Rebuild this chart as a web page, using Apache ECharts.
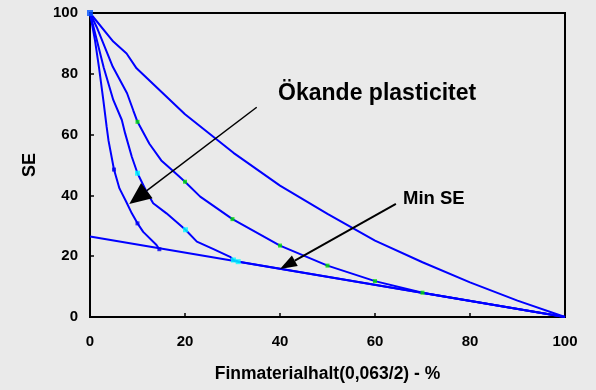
<!DOCTYPE html>
<html>
<head>
<meta charset="utf-8">
<script src="https://cdn.jsdelivr.net/npm/echarts@6/dist/echarts.min.js"></script>
<style>
  html, body { margin: 0; padding: 0; background: #eaeaea; }
  #chart { width: 596px; height: 390px; }
</style>
</head>
<body>
<div id="chart"></div>
<script>
// kurvor, [finmaterialhalt %, SE]
const curve1 = [[0, 100], [4.9, 90.6], [7.7, 86.7], [9.8, 81.8], [20, 66.7], [30.2, 54], [40, 43.2],
  [50, 33.9], [60, 25.1], [70, 18], [80, 11.4], [90, 5.4], [100, 0]]
const curve2 = [[0, 100], [1.4, 95.4], [4.8, 82.3], [7.8, 73.6], [9.1, 68], [10, 64.2], [12.5, 57],
  [15, 51.5], [17.5, 48], [20, 44.5], [23.2, 39.6], [30, 32.2], [40, 23.5], [50, 16.9], [60, 11.8],
  [70, 8], [100, 0]]
const curve3 = [[0, 100], [2.9, 82], [4.9, 71.4], [6.7, 64.8], [7.4, 60.4], [8.8, 52.7], [10, 47.3],
  [11.9, 41.2], [13.3, 37.4], [16.1, 34.1], [20.1, 28.7], [22.5, 24.8], [26, 22.3], [29.5, 19.8],
  [30.2, 18.75], [31.2, 18.2], [100, 0]]
const curve4 = [[0, 100], [1.05, 91], [1.9, 82], [2.8, 71.4], [3.5, 62.6], [3.9, 58], [5.05, 48.5],
  [6.2, 42.3], [7.6, 38], [8.8, 34.1], [10, 30.8], [11.2, 28], [14, 23.7], [14.6, 22.3]]
const minSE = [[0, 26.5], [100, 0]]

// markörer
const topMarker = [[0, 100]]
const curve2Markers = [[10, 64.2], [20, 44.5], [30, 32.2], [40, 23.5], [50, 16.9], [60, 11.8], [70, 8]]
const curve3Markers = [[10, 47.3], [20.1, 28.7], [30.2, 18.75], [31.2, 18.2]]
const curve4Markers = [[5.05, 48.5], [10, 30.8], [14.6, 22.3]]

// pilar [x från, y från, x till, y till] och texter [x, y, text]
const plasticArrow = [[35.1, 69.0, 8.27, 37.2]]
const minSEArrow = [[64.4, 37.2, 40, 15.8]]
const labels = [[39.6, 73.5, 'Ökande plasticitet'], [65.9, 38.8, 'Min SE']]
const labelSizes = [23, 18.5]

const FONT = 'Arial, "Liberation Sans", sans-serif'

function lineSeries(data) {
  return {
    type: 'line',
    data,
    showSymbol: false,
    lineStyle: { color: '#0000ff', width: 2 },
    z: 2
  }
}

function markerSeries(data, color, size) {
  return {
    type: 'scatter',
    data,
    symbol: 'rect',
    symbolSize: size,
    itemStyle: { color },
    z: 3
  }
}

function arrowItem(headLen, headW, lw) {
  return function (params, api) {
    const p0 = api.coord([api.value(0), api.value(1)])
    const p1 = api.coord([api.value(2), api.value(3)])
    const dx = p1[0] - p0[0]
    const dy = p1[1] - p0[1]
    const len = Math.hypot(dx, dy)
    const ux = dx / len
    const uy = dy / len
    const bx = p1[0] - ux * headLen
    const by = p1[1] - uy * headLen
    const px = -uy * headW / 2
    const py = ux * headW / 2
    return {
      type: 'group',
      children: [
        { type: 'line', shape: { x1: p0[0], y1: p0[1], x2: bx, y2: by }, style: { stroke: '#000', lineWidth: lw } },
        { type: 'polygon', shape: { points: [[p1[0], p1[1]], [bx + px, by + py], [bx - px, by - py]] }, style: { fill: '#000' } }
      ]
    }
  }
}

function arrowSeries(data, headLen, headW, lw) {
  return {
    type: 'custom',
    data,
    encode: { x: [0, 2], y: [1, 3] },
    renderItem: arrowItem(headLen, headW, lw),
    clip: false,
    silent: true,
    z: 4
  }
}

const chart = echarts.init(document.getElementById('chart'))

chart.setOption({
  backgroundColor: '#eaeaea',
  animation: false,
  grid: {
    left: 90, right: 31, top: 13, bottom: 73,
    show: true, borderColor: '#000', borderWidth: 2
  },
  xAxis: {
    type: 'value',
    min: 0, max: 100, interval: 20,
    name: 'Finmaterialhalt(0,063/2) - %',
    nameLocation: 'middle',
    nameGap: 48,
    nameTextStyle: { fontSize: 17.5, fontWeight: 'bold', fontFamily: FONT, color: '#000' },
    axisLine: { lineStyle: { color: '#000', width: 2 } },
    axisTick: { inside: true, length: 4, lineStyle: { color: '#000', width: 1.5 } },
    axisLabel: { fontSize: 15, fontWeight: 'bold', fontFamily: FONT, color: '#000', margin: 17 },
    splitLine: { show: false }
  },
  yAxis: {
    type: 'value',
    min: 0, max: 100, interval: 20,
    name: 'SE',
    nameLocation: 'middle',
    nameGap: 51,
    nameTextStyle: { fontSize: 18, fontWeight: 'bold', fontFamily: FONT, color: '#000' },
    axisLine: { show: true, lineStyle: { color: '#000', width: 2 } },
    axisTick: { show: true, inside: true, length: 4, lineStyle: { color: '#000', width: 1.5 } },
    axisLabel: { fontSize: 15, fontWeight: 'bold', fontFamily: FONT, color: '#000', margin: 12 },
    splitLine: { show: false }
  },
  series: [
    lineSeries(curve1),
    lineSeries(curve2),
    lineSeries(curve3),
    lineSeries(curve4),
    lineSeries(minSE),
    markerSeries(topMarker, '#0050ff', 6),
    markerSeries(curve2Markers, '#00e000', 4),
    markerSeries(curve3Markers, '#00ffff', 5),
    markerSeries(curve4Markers, '#0000ee', 4),
    arrowSeries(plasticArrow, 22, 19, 1.5),
    arrowSeries(minSEArrow, 17, 12, 2),
    {
      type: 'custom',
      data: labels,
      encode: { x: 0, y: 1 },
      clip: false,
      silent: true,
      z: 5,
      renderItem: function (params, api) {
        const p = api.coord([api.value(0), api.value(1)])
        return {
          type: 'text',
          x: p[0],
          y: p[1],
          style: {
            text: labels[params.dataIndex][2],
            fontSize: labelSizes[params.dataIndex],
            fontWeight: 'bold',
            fontFamily: FONT,
            fill: '#000',
            align: 'left',
            verticalAlign: 'middle'
          }
        }
      }
    }
  ]
})
</script>
</body>
</html>
